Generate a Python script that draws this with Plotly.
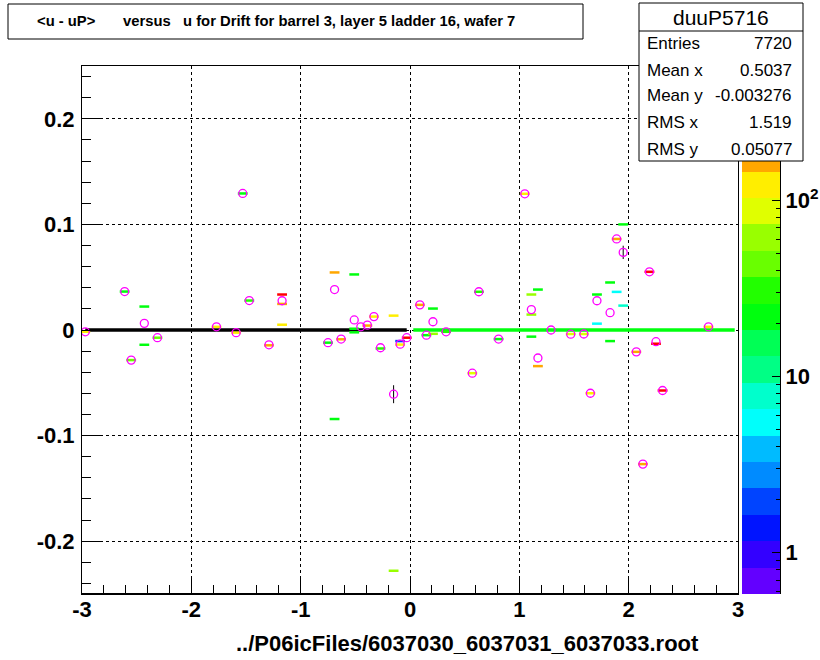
import numpy as np
import plotly.graph_objects as go

# ---------------- data ----------------
# profile points (mean of <u - uP> per u bin)
prof_x = [-2.97, -2.61, -2.55, -2.43, -2.31, -1.77, -1.59, -1.53, -1.47, -1.29, -1.17,
          -0.75, -0.69, -0.63, -0.51, -0.45, -0.39, -0.33, -0.27, -0.15, -0.09, -0.03,
          0.09, 0.15, 0.21, 0.33, 0.57, 0.63, 0.81, 1.05, 1.11, 1.17, 1.29, 1.47, 1.59,
          1.65, 1.71, 1.83, 1.89, 1.95, 2.07, 2.13, 2.19, 2.25, 2.31, 2.73]
prof_y = [-0.0017, 0.0364, -0.0285, 0.0063, -0.0073, 0.003, -0.0025, 0.1293, 0.0279, -0.014, 0.0277,
          -0.012, 0.0383, -0.0086, 0.0095, 0.003, 0.0046, 0.0127, -0.0168, -0.0608, -0.0134, -0.0073,
          0.0238, -0.0049, 0.0078, -0.0017, -0.0409, 0.0362, -0.0086, 0.129, 0.0193, -0.0265, 0.0,
          -0.004, -0.0038,
          -0.0599, 0.0277, 0.0164, 0.0862, 0.0735, -0.0207, -0.127, 0.0551, -0.0111, -0.0573, 0.003]
prof_err = [0.0] * len(prof_x)
prof_err[prof_x.index(-0.15)] = 0.0085
prof_err[prof_x.index(1.95)] = 0.0063

# 2D histogram cells (u bin centre, <u-uP> bin centre, counts)
cell_x = [-2.97, -2.61, -2.55, -2.43, -2.43, -2.31, -1.77, -1.59, -1.53, -1.47, -1.29,
          -1.17, -1.17, -1.17, -0.75, -0.69, -0.69, -0.63, -0.51, -0.51, -0.51, -0.39,
          -0.33, -0.27, -0.15, -0.15, -0.09, -0.09, -0.03,
          0.09, 0.15, 0.21, 0.21, 0.33, 0.57, 0.63, 0.81, 1.05, 1.11, 1.11, 1.11, 1.17, 1.17,
          1.47, 1.59, 1.65, 1.71, 1.71, 1.83, 1.83, 1.89, 1.89, 1.95, 1.95, 2.07, 2.13,
          2.19, 2.25, 2.31, 2.73]
cell_y = [-0.0017, 0.0364, -0.0285, 0.0222, -0.014, -0.0073, 0.003, -0.0025, 0.1293, 0.0279, -0.0145,
          0.0336, 0.0247, 0.005, -0.012, 0.0545, -0.0843, -0.0088, 0.0526, 0.0012, -0.0022, 0.0042,
          0.0127, -0.0175, 0.0136, -0.228, -0.0105, -0.0138, -0.0073,
          0.0238, -0.0049, 0.0203, -0.0036, -0.0017, -0.0409, 0.0362, -0.0086, 0.129, 0.0336, 0.0146,
          -0.0063, 0.0383, -0.0342,
          -0.0038, -0.0038, -0.0599, 0.0336, 0.006, 0.045, -0.0105, 0.0862, 0.0361, 0.100, 0.0231,
          -0.0207, -0.127,
          0.0551, -0.013, -0.0573, 0.003]
cell_z = [120, 22, 40, 22, 22, 40, 120, 120, 22, 30, 175,
          480, 175, 120, 22, 175, 22, 175, 22, 22, 22, 175,
          120, 30, 120, 60, 2, 120, 480,
          175, 22, 22, 60, 30, 88, 30, 22, 120, 60, 60, 22, 22, 175,
          88, 88, 120, 22, 5.5, 22, 22, 175, 5.5, 22, 8, 175, 175,
          480, 480, 480, 120]

# dense y = 0 band
band_left_x = [-2.97, -0.03]
band_right_x = [0.03, 2.97]
band_y = [0.0, 0.0]
band_right_z = 22

# z axis (log) range
zmin, zmax = 0.583, 577.0
n_levels = 20

x_ticks = [-3, -2, -1, 0, 1, 2, 3]
y_ticks = [-0.2, -0.1, 0, 0.1, 0.2]
y_ticktext = ["-0.2", "-0.1", "0", "0.1", "0.2"]

stats_labels = ["Entries", "Mean x", "Mean y", "RMS x", "RMS y"]
stats_values = ["7720", "0.5037", "-0.003276", "1.519", "0.05077"]
stats_title = "duuP5716"

# ---------------- style ----------------
PALETTE = ["#6300ff", "#3300ff", "#0014ff", "#0044ff", "#008bff", "#00bbff", "#00fffb",
           "#00ffcc", "#00ff85", "#00ff55", "#00ff0e", "#22ff00", "#69ff00", "#99ff00",
           "#e0ff00", "#ffee00", "#ffa700", "#ff7700", "#ff3000", "#ff0000"]
FONT = "Liberation Sans"

lmin, lmax = np.log10(zmin), np.log10(zmax)
cscale = []
for k, c in enumerate(PALETTE):
    cscale.append([k / n_levels, c])
    cscale.append([(k + 1) / n_levels, c])


def level_color(z):
    k = int((np.log10(z) - lmin) / (lmax - lmin) * n_levels)
    return PALETTE[max(0, min(n_levels - 1, k))]


W, H = 820, 660
ML, MR, MT, MB = 82, 40, 66, 66
PW = W - ML - MR
PH = H - MT - MB


def px(x):
    return (x - ML) / PW


def py(y):
    return (H - MB - y) / PH


fig = go.Figure()

# y=0 band
fig.add_trace(go.Scatter(x=band_left_x, y=band_y, mode="lines",
                         line=dict(color="black", width=3.5), hoverinfo="skip",
                         showlegend=False))
fig.add_trace(go.Scatter(x=band_right_x, y=band_y, mode="lines",
                         line=dict(color=level_color(band_right_z), width=3.5),
                         hoverinfo="skip", showlegend=False))

# 2D cells
logz = np.log10(cell_z)
fig.add_trace(go.Scatter(
    x=cell_x, y=cell_y, mode="markers", showlegend=False,
    marker=dict(symbol="line-ew", size=7, color=logz, colorscale=cscale,
                cmin=lmin, cmax=lmax, showscale=False,
                line=dict(width=2.5, color=logz, colorscale=cscale, cmin=lmin, cmax=lmax))))

# profile
fig.add_trace(go.Scatter(
    x=prof_x, y=prof_y, mode="markers", showlegend=False,
    error_y=dict(type="data", array=prof_err, visible=True, color="black",
                 thickness=1, width=0),
    marker=dict(symbol="circle-open", size=8, color="#ff00ff", line=dict(width=1.3))))

# colour bar (drawn as heatmap on its own axes)
edges = np.linspace(lmin, lmax, n_levels + 1)
fig.add_trace(go.Heatmap(
    x=[0, 1], y=edges, z=[[k] for k in range(n_levels)],
    colorscale=cscale, zmin=-0.5, zmax=n_levels - 0.5, showscale=False,
    xaxis="x2", yaxis="y2", hoverinfo="skip"))

minor_vals = []
for d in range(-1, 3):
    for m in range(2, 10):
        v = np.log10(m * 10.0 ** d)
        if lmin < v < lmax:
            minor_vals.append(v)

tickfont = dict(family=FONT, size=22, color="black", weight="bold")

fig.update_layout(
    width=W, height=H,
    margin=dict(l=ML, r=MR, t=MT, b=MB, autoexpand=False),
    paper_bgcolor="white", plot_bgcolor="white",
    showlegend=False,
    xaxis=dict(domain=[0, (738 - ML) / PW], range=[-3, 3], tickmode="array",
               tickvals=x_ticks, ticktext=[str(v) for v in x_ticks],
               ticks="inside", ticklen=17, tickwidth=1, tickcolor="black",
               minor=dict(dtick=0.2, tick0=0, ticks="inside", ticklen=9, tickcolor="black",
                          showgrid=False),
               showgrid=True, gridcolor="black", gridwidth=1, griddash="3px,3px",
               showline=True, linecolor="black", linewidth=1, mirror=True,
               zeroline=False, tickfont=tickfont, automargin=False, fixedrange=True,
               ticklabelstandoff=-4),
    yaxis=dict(domain=[0, 1], range=[-0.25, 0.25], tickmode="array",
               tickvals=y_ticks, ticktext=y_ticktext,
               ticks="inside", ticklen=18, tickwidth=1, tickcolor="black",
               minor=dict(dtick=0.02, tick0=0, ticks="inside", ticklen=9, tickcolor="black",
                          showgrid=False),
               showgrid=True, gridcolor="black", gridwidth=1, griddash="3px,3px",
               showline=True, linecolor="black", linewidth=1, mirror=True,
               zeroline=False, tickfont=tickfont, automargin=False, fixedrange=True,
               ticklabelstandoff=2),
    xaxis2=dict(domain=[(742 - ML) / PW, 1], range=[0, 1], anchor="y2", visible=False,
                fixedrange=True),
    yaxis2=dict(domain=[0, 1], range=[lmin, lmax], anchor="x2", side="right",
                tickmode="array", tickvals=[0, 1, 2], ticktext=["1", "10", "10<sup>2</sup>"],
                ticks="inside", ticklen=8, tickwidth=1, tickcolor="black",
                minor=dict(tickmode="array", tickvals=minor_vals, ticks="inside", ticklen=4,
                           tickcolor="black", showgrid=False),
                showgrid=False, zeroline=False, showline=True, linecolor="black", linewidth=1,
                tickfont=tickfont, automargin=False, fixedrange=True),
)

shapes = []
# bottom frame drawn a little heavier, as in the reference
shapes.append(dict(type="line", xref="paper", yref="paper", x0=0, x1=px(738),
                   y0=0, y1=0, line=dict(color="black", width=2), layer="above"))
# title box
shapes.append(dict(type="rect", xref="paper", yref="paper", x0=px(8), x1=px(583),
                   y0=py(4), y1=py(39), fillcolor="white", line=dict(color="black", width=1),
                   layer="above"))
# stats box
shapes.append(dict(type="rect", xref="paper", yref="paper", x0=px(639), x1=px(803),
                   y0=py(3), y1=py(161), fillcolor="white", line=dict(color="black", width=1),
                   layer="above"))
shapes.append(dict(type="line", xref="paper", yref="paper", x0=px(639), x1=px(803),
                   y0=py(31), y1=py(31), line=dict(color="black", width=1), layer="above"))
fig.update_layout(shapes=shapes)

ann = []
tfont = dict(family=FONT, size=14.8, color="black", weight="bold")
ann.append(dict(text="&lt;u - uP&gt;", x=px(35), y=py(21), xref="paper", yref="paper",
                xanchor="left", yanchor="middle", showarrow=False, font=tfont))
ann.append(dict(text="versus\u00a0\u00a0\u00a0u for Drift for barrel 3, layer 5 ladder 16, wafer 7",
                x=px(121), y=py(21), xref="paper", yref="paper",
                xanchor="left", yanchor="middle", showarrow=False, font=tfont))
ann.append(dict(text=stats_title, x=px(721), y=py(17), xref="paper", yref="paper",
                xanchor="center", yanchor="middle", showarrow=False,
                font=dict(family=FONT, size=21, color="black")))
row_y = [44, 70, 96, 123, 149]
sfont = dict(family=FONT, size=17, color="black")
for lab, val, yy in zip(stats_labels, stats_values, row_y):
    ann.append(dict(text=lab, x=px(645), y=py(yy), xref="paper", yref="paper",
                    xanchor="left", yanchor="middle", showarrow=False, font=sfont))
    ann.append(dict(text=val, x=px(794), y=py(yy), xref="paper", yref="paper",
                    xanchor="right", yanchor="middle", showarrow=False, font=sfont))
ann.append(dict(text="../P06icFiles/6037030_6037031_6037033.root", x=px(701), y=py(643),
                xref="paper", yref="paper", xanchor="right", yanchor="middle",
                showarrow=False, font=dict(family=FONT, size=22, color="black", weight="bold")))
fig.update_layout(annotations=ann)

fig.write_html("out.html")
